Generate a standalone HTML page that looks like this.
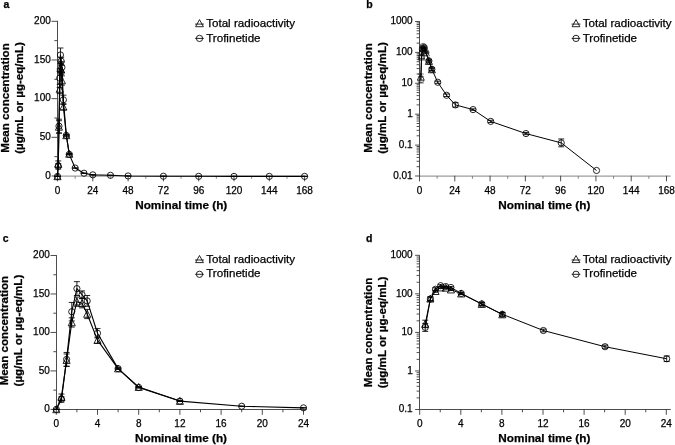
<!DOCTYPE html>
<html><head><meta charset="utf-8"><title>Figure</title>
<style>
html,body{margin:0;padding:0;background:#fff;}
body{width:675px;height:445px;overflow:hidden;font-family:'Liberation Sans', sans-serif;}
svg{display:block;font-family:'Liberation Sans', sans-serif;filter:blur(0.35px);}
text{fill:#000;stroke:#000;stroke-width:0.25px;}
</style></head><body>
<svg width="675" height="445" viewBox="0 0 675 445">
<rect width="675" height="445" fill="#fff"/>
<text x="3.60" y="8.40" font-size="10.5" text-anchor="start" font-weight="bold" >a</text>
<line x1="57.50" y1="176.00" x2="308.00" y2="176.00" stroke="#9c9c9c" stroke-width="1.25" />
<line x1="75.15" y1="176.00" x2="75.15" y2="178.80" stroke="#7a7a7a" stroke-width="0.9" />
<line x1="110.45" y1="176.00" x2="110.45" y2="178.80" stroke="#7a7a7a" stroke-width="0.9" />
<line x1="145.75" y1="176.00" x2="145.75" y2="178.80" stroke="#7a7a7a" stroke-width="0.9" />
<line x1="181.05" y1="176.00" x2="181.05" y2="178.80" stroke="#7a7a7a" stroke-width="0.9" />
<line x1="216.35" y1="176.00" x2="216.35" y2="178.80" stroke="#7a7a7a" stroke-width="0.9" />
<line x1="251.65" y1="176.00" x2="251.65" y2="178.80" stroke="#7a7a7a" stroke-width="0.9" />
<line x1="286.95" y1="176.00" x2="286.95" y2="178.80" stroke="#7a7a7a" stroke-width="0.9" />
<line x1="57.50" y1="175.70" x2="57.50" y2="181.30" stroke="#3a3a3a" stroke-width="0.9" />
<text x="57.50" y="193.80" font-size="10.0" text-anchor="middle" >0</text>
<line x1="92.80" y1="175.70" x2="92.80" y2="181.30" stroke="#3a3a3a" stroke-width="0.9" />
<text x="92.80" y="193.80" font-size="10.0" text-anchor="middle" >24</text>
<line x1="128.10" y1="175.70" x2="128.10" y2="181.30" stroke="#3a3a3a" stroke-width="0.9" />
<text x="128.10" y="193.80" font-size="10.0" text-anchor="middle" >48</text>
<line x1="163.40" y1="175.70" x2="163.40" y2="181.30" stroke="#3a3a3a" stroke-width="0.9" />
<text x="163.40" y="193.80" font-size="10.0" text-anchor="middle" >72</text>
<line x1="198.70" y1="175.70" x2="198.70" y2="181.30" stroke="#3a3a3a" stroke-width="0.9" />
<text x="198.70" y="193.80" font-size="10.0" text-anchor="middle" >96</text>
<line x1="234.00" y1="175.70" x2="234.00" y2="181.30" stroke="#3a3a3a" stroke-width="0.9" />
<text x="234.00" y="193.80" font-size="10.0" text-anchor="middle" >120</text>
<line x1="269.30" y1="175.70" x2="269.30" y2="181.30" stroke="#3a3a3a" stroke-width="0.9" />
<text x="269.30" y="193.80" font-size="10.0" text-anchor="middle" >144</text>
<line x1="304.60" y1="175.70" x2="304.60" y2="181.30" stroke="#3a3a3a" stroke-width="0.9" />
<text x="304.60" y="193.80" font-size="10.0" text-anchor="middle" >168</text>
<line x1="57.50" y1="20.90" x2="57.50" y2="176.40" stroke="#3a3a3a" stroke-width="0.9" />
<line x1="51.50" y1="176.00" x2="57.50" y2="176.00" stroke="#3a3a3a" stroke-width="0.9" />
<text x="50.80" y="178.60" font-size="10.0" text-anchor="end" >0</text>
<line x1="51.50" y1="137.32" x2="57.50" y2="137.32" stroke="#3a3a3a" stroke-width="0.9" />
<text x="50.80" y="139.92" font-size="10.0" text-anchor="end" >50</text>
<line x1="51.50" y1="98.65" x2="57.50" y2="98.65" stroke="#3a3a3a" stroke-width="0.9" />
<text x="50.80" y="101.25" font-size="10.0" text-anchor="end" >100</text>
<line x1="51.50" y1="59.97" x2="57.50" y2="59.97" stroke="#3a3a3a" stroke-width="0.9" />
<text x="50.80" y="62.57" font-size="10.0" text-anchor="end" >150</text>
<line x1="51.50" y1="21.30" x2="57.50" y2="21.30" stroke="#3a3a3a" stroke-width="0.9" />
<text x="50.80" y="23.90" font-size="10.0" text-anchor="end" >200</text>
<line x1="54.30" y1="156.66" x2="57.50" y2="156.66" stroke="#3a3a3a" stroke-width="0.9" />
<line x1="54.30" y1="117.99" x2="57.50" y2="117.99" stroke="#3a3a3a" stroke-width="0.9" />
<line x1="54.30" y1="79.31" x2="57.50" y2="79.31" stroke="#3a3a3a" stroke-width="0.9" />
<line x1="54.30" y1="40.64" x2="57.50" y2="40.64" stroke="#3a3a3a" stroke-width="0.9" />
<text transform="translate(9.40,98.00) rotate(-90)" font-size="11.6" font-weight="bold" text-anchor="middle">Mean concentration</text>
<text transform="translate(23.40,98.00) rotate(-90)" font-size="11.6" font-weight="bold" text-anchor="middle">(µg/mL or µg-eq/mL)</text>
<text x="181.20" y="208.70" font-size="11.75" text-anchor="middle" font-weight="bold" >Nominal time (h)</text>
<path d="M199.50,19.60 L195.60,26.70 L203.40,26.70 Z" fill="none" stroke="#000" stroke-width="0.85"/>
<line x1="195.10" y1="24.10" x2="203.90" y2="24.10" stroke="#000" stroke-width="0.85" />
<text x="206.20" y="27.30" font-size="11.6" text-anchor="start" >Total radioactivity</text>
<circle cx="199.50" cy="38.40" r="3.15" fill="none" stroke="#000" stroke-width="0.85"/>
<line x1="195.20" y1="38.40" x2="203.80" y2="38.40" stroke="#000" stroke-width="0.85" />
<text x="206.20" y="41.50" font-size="11.6" text-anchor="start" >Trofinetide</text>
<polyline points="57.50,176.40 58.24,164.02 58.97,126.90 59.71,88.99 60.44,68.11 61.18,69.66 61.91,80.49 63.38,106.79 66.33,135.40 69.27,153.97" fill="none" stroke="#000" stroke-width="1.1" stroke-linejoin="round"/>
<line x1="57.50" y1="176.40" x2="57.50" y2="176.40" stroke="#000" stroke-width="0.85" />
<line x1="54.50" y1="176.40" x2="60.50" y2="176.40" stroke="#000" stroke-width="0.85" />
<line x1="54.50" y1="176.40" x2="60.50" y2="176.40" stroke="#000" stroke-width="0.85" />
<path d="M57.50,172.80 L53.95,179.70 L61.05,179.70 Z" fill="none" stroke="#000" stroke-width="0.85" stroke-linejoin="miter"/>
<line x1="58.24" y1="160.93" x2="58.24" y2="167.12" stroke="#000" stroke-width="0.85" />
<line x1="55.24" y1="160.93" x2="61.24" y2="160.93" stroke="#000" stroke-width="0.85" />
<line x1="55.24" y1="167.12" x2="61.24" y2="167.12" stroke="#000" stroke-width="0.85" />
<path d="M58.24,160.42 L54.69,167.32 L61.79,167.32 Z" fill="none" stroke="#000" stroke-width="0.85" stroke-linejoin="miter"/>
<line x1="58.97" y1="120.71" x2="58.97" y2="133.08" stroke="#000" stroke-width="0.85" />
<line x1="55.97" y1="120.71" x2="61.97" y2="120.71" stroke="#000" stroke-width="0.85" />
<line x1="55.97" y1="133.08" x2="61.97" y2="133.08" stroke="#000" stroke-width="0.85" />
<path d="M58.97,123.30 L55.42,130.20 L62.52,130.20 Z" fill="none" stroke="#000" stroke-width="0.85" stroke-linejoin="miter"/>
<line x1="59.71" y1="84.35" x2="59.71" y2="93.64" stroke="#000" stroke-width="0.85" />
<line x1="56.71" y1="84.35" x2="62.71" y2="84.35" stroke="#000" stroke-width="0.85" />
<line x1="56.71" y1="93.64" x2="62.71" y2="93.64" stroke="#000" stroke-width="0.85" />
<path d="M59.71,85.39 L56.16,92.29 L63.26,92.29 Z" fill="none" stroke="#000" stroke-width="0.85" stroke-linejoin="miter"/>
<line x1="60.44" y1="63.47" x2="60.44" y2="72.75" stroke="#000" stroke-width="0.85" />
<line x1="57.44" y1="63.47" x2="63.44" y2="63.47" stroke="#000" stroke-width="0.85" />
<line x1="57.44" y1="72.75" x2="63.44" y2="72.75" stroke="#000" stroke-width="0.85" />
<path d="M60.44,64.51 L56.89,71.41 L63.99,71.41 Z" fill="none" stroke="#000" stroke-width="0.85" stroke-linejoin="miter"/>
<line x1="61.18" y1="65.02" x2="61.18" y2="74.30" stroke="#000" stroke-width="0.85" />
<line x1="58.18" y1="65.02" x2="64.18" y2="65.02" stroke="#000" stroke-width="0.85" />
<line x1="58.18" y1="74.30" x2="64.18" y2="74.30" stroke="#000" stroke-width="0.85" />
<path d="M61.18,66.06 L57.63,72.96 L64.73,72.96 Z" fill="none" stroke="#000" stroke-width="0.85" stroke-linejoin="miter"/>
<line x1="61.91" y1="75.84" x2="61.91" y2="85.13" stroke="#000" stroke-width="0.85" />
<line x1="58.91" y1="75.84" x2="64.91" y2="75.84" stroke="#000" stroke-width="0.85" />
<line x1="58.91" y1="85.13" x2="64.91" y2="85.13" stroke="#000" stroke-width="0.85" />
<path d="M61.91,76.89 L58.36,83.79 L65.46,83.79 Z" fill="none" stroke="#000" stroke-width="0.85" stroke-linejoin="miter"/>
<line x1="63.38" y1="103.69" x2="63.38" y2="109.88" stroke="#000" stroke-width="0.85" />
<line x1="60.38" y1="103.69" x2="66.38" y2="103.69" stroke="#000" stroke-width="0.85" />
<line x1="60.38" y1="109.88" x2="66.38" y2="109.88" stroke="#000" stroke-width="0.85" />
<path d="M63.38,103.19 L59.83,110.09 L66.93,110.09 Z" fill="none" stroke="#000" stroke-width="0.85" stroke-linejoin="miter"/>
<line x1="66.33" y1="134.79" x2="66.33" y2="136.02" stroke="#000" stroke-width="0.85" />
<line x1="63.33" y1="134.79" x2="69.33" y2="134.79" stroke="#000" stroke-width="0.85" />
<line x1="63.33" y1="136.02" x2="69.33" y2="136.02" stroke="#000" stroke-width="0.85" />
<path d="M66.33,131.80 L62.78,138.70 L69.88,138.70 Z" fill="none" stroke="#000" stroke-width="0.85" stroke-linejoin="miter"/>
<line x1="69.27" y1="153.43" x2="69.27" y2="154.51" stroke="#000" stroke-width="0.85" />
<line x1="66.27" y1="153.43" x2="72.27" y2="153.43" stroke="#000" stroke-width="0.85" />
<line x1="66.27" y1="154.51" x2="72.27" y2="154.51" stroke="#000" stroke-width="0.85" />
<path d="M69.27,150.37 L65.72,157.27 L72.82,157.27 Z" fill="none" stroke="#000" stroke-width="0.85" stroke-linejoin="miter"/>
<polyline points="57.50,176.40 58.24,166.34 58.97,126.12 59.71,78.17 60.44,54.96 61.18,61.15 61.91,67.34 63.38,99.82 66.33,135.40 69.27,154.36 75.15,168.05 83.97,173.23 92.80,174.85 110.45,175.31 128.10,175.95 163.40,176.22 198.70,176.31 234.00,176.39 269.30,176.40 304.60,176.40" fill="none" stroke="#000" stroke-width="1.1" stroke-linejoin="round"/>
<line x1="57.50" y1="176.40" x2="57.50" y2="176.40" stroke="#000" stroke-width="0.85" />
<line x1="54.50" y1="176.40" x2="60.50" y2="176.40" stroke="#000" stroke-width="0.85" />
<line x1="54.50" y1="176.40" x2="60.50" y2="176.40" stroke="#000" stroke-width="0.85" />
<circle cx="57.50" cy="176.40" r="3.1" fill="none" stroke="#000" stroke-width="0.85"/>
<line x1="58.24" y1="163.64" x2="58.24" y2="169.05" stroke="#000" stroke-width="0.85" />
<line x1="55.24" y1="163.64" x2="61.24" y2="163.64" stroke="#000" stroke-width="0.85" />
<line x1="55.24" y1="169.05" x2="61.24" y2="169.05" stroke="#000" stroke-width="0.85" />
<circle cx="58.24" cy="166.34" r="3.1" fill="none" stroke="#000" stroke-width="0.85"/>
<line x1="58.97" y1="119.16" x2="58.97" y2="133.08" stroke="#000" stroke-width="0.85" />
<line x1="55.97" y1="119.16" x2="61.97" y2="119.16" stroke="#000" stroke-width="0.85" />
<line x1="55.97" y1="133.08" x2="61.97" y2="133.08" stroke="#000" stroke-width="0.85" />
<circle cx="58.97" cy="126.12" r="3.1" fill="none" stroke="#000" stroke-width="0.85"/>
<line x1="59.71" y1="68.88" x2="59.71" y2="87.45" stroke="#000" stroke-width="0.85" />
<line x1="56.71" y1="68.88" x2="62.71" y2="68.88" stroke="#000" stroke-width="0.85" />
<line x1="56.71" y1="87.45" x2="62.71" y2="87.45" stroke="#000" stroke-width="0.85" />
<circle cx="59.71" cy="78.17" r="3.1" fill="none" stroke="#000" stroke-width="0.85"/>
<line x1="60.44" y1="48.00" x2="60.44" y2="61.92" stroke="#000" stroke-width="0.85" />
<line x1="57.44" y1="48.00" x2="63.44" y2="48.00" stroke="#000" stroke-width="0.85" />
<line x1="57.44" y1="61.92" x2="63.44" y2="61.92" stroke="#000" stroke-width="0.85" />
<circle cx="60.44" cy="54.96" r="3.1" fill="none" stroke="#000" stroke-width="0.85"/>
<line x1="61.18" y1="57.28" x2="61.18" y2="65.02" stroke="#000" stroke-width="0.85" />
<line x1="58.18" y1="57.28" x2="64.18" y2="57.28" stroke="#000" stroke-width="0.85" />
<line x1="58.18" y1="65.02" x2="64.18" y2="65.02" stroke="#000" stroke-width="0.85" />
<circle cx="61.18" cy="61.15" r="3.1" fill="none" stroke="#000" stroke-width="0.85"/>
<line x1="61.91" y1="61.92" x2="61.91" y2="72.75" stroke="#000" stroke-width="0.85" />
<line x1="58.91" y1="61.92" x2="64.91" y2="61.92" stroke="#000" stroke-width="0.85" />
<line x1="58.91" y1="72.75" x2="64.91" y2="72.75" stroke="#000" stroke-width="0.85" />
<circle cx="61.91" cy="67.34" r="3.1" fill="none" stroke="#000" stroke-width="0.85"/>
<line x1="63.38" y1="95.18" x2="63.38" y2="104.46" stroke="#000" stroke-width="0.85" />
<line x1="60.38" y1="95.18" x2="66.38" y2="95.18" stroke="#000" stroke-width="0.85" />
<line x1="60.38" y1="104.46" x2="66.38" y2="104.46" stroke="#000" stroke-width="0.85" />
<circle cx="63.38" cy="99.82" r="3.1" fill="none" stroke="#000" stroke-width="0.85"/>
<line x1="66.33" y1="134.71" x2="66.33" y2="136.10" stroke="#000" stroke-width="0.85" />
<line x1="63.33" y1="134.71" x2="69.33" y2="134.71" stroke="#000" stroke-width="0.85" />
<line x1="63.33" y1="136.10" x2="69.33" y2="136.10" stroke="#000" stroke-width="0.85" />
<circle cx="66.33" cy="135.40" r="3.1" fill="none" stroke="#000" stroke-width="0.85"/>
<line x1="69.27" y1="153.74" x2="69.27" y2="154.97" stroke="#000" stroke-width="0.85" />
<line x1="66.27" y1="153.74" x2="72.27" y2="153.74" stroke="#000" stroke-width="0.85" />
<line x1="66.27" y1="154.97" x2="72.27" y2="154.97" stroke="#000" stroke-width="0.85" />
<circle cx="69.27" cy="154.36" r="3.1" fill="none" stroke="#000" stroke-width="0.85"/>
<line x1="75.15" y1="167.74" x2="75.15" y2="168.36" stroke="#000" stroke-width="0.85" />
<line x1="72.15" y1="167.74" x2="78.15" y2="167.74" stroke="#000" stroke-width="0.85" />
<line x1="72.15" y1="168.36" x2="78.15" y2="168.36" stroke="#000" stroke-width="0.85" />
<circle cx="75.15" cy="168.05" r="3.1" fill="none" stroke="#000" stroke-width="0.85"/>
<line x1="83.97" y1="172.92" x2="83.97" y2="173.54" stroke="#000" stroke-width="0.85" />
<line x1="80.97" y1="172.92" x2="86.97" y2="172.92" stroke="#000" stroke-width="0.85" />
<line x1="80.97" y1="173.54" x2="86.97" y2="173.54" stroke="#000" stroke-width="0.85" />
<circle cx="83.97" cy="173.23" r="3.1" fill="none" stroke="#000" stroke-width="0.85"/>
<line x1="92.80" y1="174.57" x2="92.80" y2="175.13" stroke="#000" stroke-width="0.85" />
<line x1="89.80" y1="174.57" x2="95.80" y2="174.57" stroke="#000" stroke-width="0.85" />
<line x1="89.80" y1="175.13" x2="95.80" y2="175.13" stroke="#000" stroke-width="0.85" />
<circle cx="92.80" cy="174.85" r="3.1" fill="none" stroke="#000" stroke-width="0.85"/>
<line x1="110.45" y1="175.25" x2="110.45" y2="175.37" stroke="#000" stroke-width="0.85" />
<line x1="107.45" y1="175.25" x2="113.45" y2="175.25" stroke="#000" stroke-width="0.85" />
<line x1="107.45" y1="175.37" x2="113.45" y2="175.37" stroke="#000" stroke-width="0.85" />
<circle cx="110.45" cy="175.31" r="3.1" fill="none" stroke="#000" stroke-width="0.85"/>
<line x1="128.10" y1="175.91" x2="128.10" y2="175.99" stroke="#000" stroke-width="0.85" />
<line x1="125.10" y1="175.91" x2="131.10" y2="175.91" stroke="#000" stroke-width="0.85" />
<line x1="125.10" y1="175.99" x2="131.10" y2="175.99" stroke="#000" stroke-width="0.85" />
<circle cx="128.10" cy="175.95" r="3.1" fill="none" stroke="#000" stroke-width="0.85"/>
<line x1="163.40" y1="176.20" x2="163.40" y2="176.23" stroke="#000" stroke-width="0.85" />
<line x1="160.40" y1="176.20" x2="166.40" y2="176.20" stroke="#000" stroke-width="0.85" />
<line x1="160.40" y1="176.23" x2="166.40" y2="176.23" stroke="#000" stroke-width="0.85" />
<circle cx="163.40" cy="176.22" r="3.1" fill="none" stroke="#000" stroke-width="0.85"/>
<line x1="198.70" y1="176.28" x2="198.70" y2="176.34" stroke="#000" stroke-width="0.85" />
<line x1="195.70" y1="176.28" x2="201.70" y2="176.28" stroke="#000" stroke-width="0.85" />
<line x1="195.70" y1="176.34" x2="201.70" y2="176.34" stroke="#000" stroke-width="0.85" />
<circle cx="198.70" cy="176.31" r="3.1" fill="none" stroke="#000" stroke-width="0.85"/>
<line x1="234.00" y1="176.39" x2="234.00" y2="176.39" stroke="#000" stroke-width="0.85" />
<line x1="231.00" y1="176.39" x2="237.00" y2="176.39" stroke="#000" stroke-width="0.85" />
<line x1="231.00" y1="176.39" x2="237.00" y2="176.39" stroke="#000" stroke-width="0.85" />
<circle cx="234.00" cy="176.39" r="3.1" fill="none" stroke="#000" stroke-width="0.85"/>
<line x1="269.30" y1="176.40" x2="269.30" y2="176.40" stroke="#000" stroke-width="0.85" />
<line x1="266.30" y1="176.40" x2="272.30" y2="176.40" stroke="#000" stroke-width="0.85" />
<line x1="266.30" y1="176.40" x2="272.30" y2="176.40" stroke="#000" stroke-width="0.85" />
<circle cx="269.30" cy="176.40" r="3.1" fill="none" stroke="#000" stroke-width="0.85"/>
<line x1="304.60" y1="176.40" x2="304.60" y2="176.40" stroke="#000" stroke-width="0.85" />
<line x1="301.60" y1="176.40" x2="307.60" y2="176.40" stroke="#000" stroke-width="0.85" />
<line x1="301.60" y1="176.40" x2="307.60" y2="176.40" stroke="#000" stroke-width="0.85" />
<circle cx="304.60" cy="176.40" r="3.1" fill="none" stroke="#000" stroke-width="0.85"/>
<text x="366.30" y="8.10" font-size="10.5" text-anchor="start" font-weight="bold" >b</text>
<line x1="419.50" y1="176.00" x2="670.60" y2="176.00" stroke="#9c9c9c" stroke-width="1.25" />
<line x1="437.14" y1="176.00" x2="437.14" y2="178.80" stroke="#7a7a7a" stroke-width="0.9" />
<line x1="472.43" y1="176.00" x2="472.43" y2="178.80" stroke="#7a7a7a" stroke-width="0.9" />
<line x1="507.71" y1="176.00" x2="507.71" y2="178.80" stroke="#7a7a7a" stroke-width="0.9" />
<line x1="543.00" y1="176.00" x2="543.00" y2="178.80" stroke="#7a7a7a" stroke-width="0.9" />
<line x1="578.29" y1="176.00" x2="578.29" y2="178.80" stroke="#7a7a7a" stroke-width="0.9" />
<line x1="613.57" y1="176.00" x2="613.57" y2="178.80" stroke="#7a7a7a" stroke-width="0.9" />
<line x1="648.86" y1="176.00" x2="648.86" y2="178.80" stroke="#7a7a7a" stroke-width="0.9" />
<line x1="419.50" y1="175.70" x2="419.50" y2="181.30" stroke="#3a3a3a" stroke-width="0.9" />
<text x="419.50" y="193.80" font-size="10.0" text-anchor="middle" >0</text>
<line x1="454.79" y1="175.70" x2="454.79" y2="181.30" stroke="#3a3a3a" stroke-width="0.9" />
<text x="454.79" y="193.80" font-size="10.0" text-anchor="middle" >24</text>
<line x1="490.07" y1="175.70" x2="490.07" y2="181.30" stroke="#3a3a3a" stroke-width="0.9" />
<text x="490.07" y="193.80" font-size="10.0" text-anchor="middle" >48</text>
<line x1="525.36" y1="175.70" x2="525.36" y2="181.30" stroke="#3a3a3a" stroke-width="0.9" />
<text x="525.36" y="193.80" font-size="10.0" text-anchor="middle" >72</text>
<line x1="560.64" y1="175.70" x2="560.64" y2="181.30" stroke="#3a3a3a" stroke-width="0.9" />
<text x="560.64" y="193.80" font-size="10.0" text-anchor="middle" >96</text>
<line x1="595.93" y1="175.70" x2="595.93" y2="181.30" stroke="#3a3a3a" stroke-width="0.9" />
<text x="595.93" y="193.80" font-size="10.0" text-anchor="middle" >120</text>
<line x1="631.21" y1="175.70" x2="631.21" y2="181.30" stroke="#3a3a3a" stroke-width="0.9" />
<text x="631.21" y="193.80" font-size="10.0" text-anchor="middle" >144</text>
<line x1="666.50" y1="175.70" x2="666.50" y2="181.30" stroke="#3a3a3a" stroke-width="0.9" />
<text x="666.50" y="193.80" font-size="10.0" text-anchor="middle" >168</text>
<line x1="419.50" y1="21.10" x2="419.50" y2="176.40" stroke="#3a3a3a" stroke-width="0.9" />
<line x1="415.10" y1="176.00" x2="419.50" y2="176.00" stroke="#3a3a3a" stroke-width="0.9" />
<text x="412.70" y="178.90" font-size="10.0" text-anchor="end" >0.01</text>
<line x1="415.10" y1="145.10" x2="419.50" y2="145.10" stroke="#3a3a3a" stroke-width="0.9" />
<text x="412.70" y="148.00" font-size="10.0" text-anchor="end" >0.1</text>
<line x1="415.10" y1="114.20" x2="419.50" y2="114.20" stroke="#3a3a3a" stroke-width="0.9" />
<text x="412.70" y="117.10" font-size="10.0" text-anchor="end" >1</text>
<line x1="415.10" y1="83.30" x2="419.50" y2="83.30" stroke="#3a3a3a" stroke-width="0.9" />
<text x="412.70" y="86.20" font-size="10.0" text-anchor="end" >10</text>
<line x1="415.10" y1="52.40" x2="419.50" y2="52.40" stroke="#3a3a3a" stroke-width="0.9" />
<text x="412.70" y="55.30" font-size="10.0" text-anchor="end" >100</text>
<line x1="415.10" y1="21.50" x2="419.50" y2="21.50" stroke="#3a3a3a" stroke-width="0.9" />
<text x="412.70" y="24.40" font-size="10.0" text-anchor="end" >1000</text>
<line x1="416.60" y1="166.70" x2="419.50" y2="166.70" stroke="#3a3a3a" stroke-width="0.9" />
<line x1="416.60" y1="161.26" x2="419.50" y2="161.26" stroke="#3a3a3a" stroke-width="0.9" />
<line x1="416.60" y1="157.40" x2="419.50" y2="157.40" stroke="#3a3a3a" stroke-width="0.9" />
<line x1="416.60" y1="154.40" x2="419.50" y2="154.40" stroke="#3a3a3a" stroke-width="0.9" />
<line x1="416.60" y1="151.96" x2="419.50" y2="151.96" stroke="#3a3a3a" stroke-width="0.9" />
<line x1="416.60" y1="149.89" x2="419.50" y2="149.89" stroke="#3a3a3a" stroke-width="0.9" />
<line x1="416.60" y1="148.09" x2="419.50" y2="148.09" stroke="#3a3a3a" stroke-width="0.9" />
<line x1="416.60" y1="146.51" x2="419.50" y2="146.51" stroke="#3a3a3a" stroke-width="0.9" />
<line x1="416.60" y1="135.80" x2="419.50" y2="135.80" stroke="#3a3a3a" stroke-width="0.9" />
<line x1="416.60" y1="130.36" x2="419.50" y2="130.36" stroke="#3a3a3a" stroke-width="0.9" />
<line x1="416.60" y1="126.50" x2="419.50" y2="126.50" stroke="#3a3a3a" stroke-width="0.9" />
<line x1="416.60" y1="123.50" x2="419.50" y2="123.50" stroke="#3a3a3a" stroke-width="0.9" />
<line x1="416.60" y1="121.06" x2="419.50" y2="121.06" stroke="#3a3a3a" stroke-width="0.9" />
<line x1="416.60" y1="118.99" x2="419.50" y2="118.99" stroke="#3a3a3a" stroke-width="0.9" />
<line x1="416.60" y1="117.19" x2="419.50" y2="117.19" stroke="#3a3a3a" stroke-width="0.9" />
<line x1="416.60" y1="115.61" x2="419.50" y2="115.61" stroke="#3a3a3a" stroke-width="0.9" />
<line x1="416.60" y1="104.90" x2="419.50" y2="104.90" stroke="#3a3a3a" stroke-width="0.9" />
<line x1="416.60" y1="99.46" x2="419.50" y2="99.46" stroke="#3a3a3a" stroke-width="0.9" />
<line x1="416.60" y1="95.60" x2="419.50" y2="95.60" stroke="#3a3a3a" stroke-width="0.9" />
<line x1="416.60" y1="92.60" x2="419.50" y2="92.60" stroke="#3a3a3a" stroke-width="0.9" />
<line x1="416.60" y1="90.16" x2="419.50" y2="90.16" stroke="#3a3a3a" stroke-width="0.9" />
<line x1="416.60" y1="88.09" x2="419.50" y2="88.09" stroke="#3a3a3a" stroke-width="0.9" />
<line x1="416.60" y1="86.29" x2="419.50" y2="86.29" stroke="#3a3a3a" stroke-width="0.9" />
<line x1="416.60" y1="84.71" x2="419.50" y2="84.71" stroke="#3a3a3a" stroke-width="0.9" />
<line x1="416.60" y1="74.00" x2="419.50" y2="74.00" stroke="#3a3a3a" stroke-width="0.9" />
<line x1="416.60" y1="68.56" x2="419.50" y2="68.56" stroke="#3a3a3a" stroke-width="0.9" />
<line x1="416.60" y1="64.70" x2="419.50" y2="64.70" stroke="#3a3a3a" stroke-width="0.9" />
<line x1="416.60" y1="61.70" x2="419.50" y2="61.70" stroke="#3a3a3a" stroke-width="0.9" />
<line x1="416.60" y1="59.26" x2="419.50" y2="59.26" stroke="#3a3a3a" stroke-width="0.9" />
<line x1="416.60" y1="57.19" x2="419.50" y2="57.19" stroke="#3a3a3a" stroke-width="0.9" />
<line x1="416.60" y1="55.39" x2="419.50" y2="55.39" stroke="#3a3a3a" stroke-width="0.9" />
<line x1="416.60" y1="53.81" x2="419.50" y2="53.81" stroke="#3a3a3a" stroke-width="0.9" />
<line x1="416.60" y1="43.10" x2="419.50" y2="43.10" stroke="#3a3a3a" stroke-width="0.9" />
<line x1="416.60" y1="37.66" x2="419.50" y2="37.66" stroke="#3a3a3a" stroke-width="0.9" />
<line x1="416.60" y1="33.80" x2="419.50" y2="33.80" stroke="#3a3a3a" stroke-width="0.9" />
<line x1="416.60" y1="30.80" x2="419.50" y2="30.80" stroke="#3a3a3a" stroke-width="0.9" />
<line x1="416.60" y1="28.36" x2="419.50" y2="28.36" stroke="#3a3a3a" stroke-width="0.9" />
<line x1="416.60" y1="26.29" x2="419.50" y2="26.29" stroke="#3a3a3a" stroke-width="0.9" />
<line x1="416.60" y1="24.49" x2="419.50" y2="24.49" stroke="#3a3a3a" stroke-width="0.9" />
<line x1="416.60" y1="22.91" x2="419.50" y2="22.91" stroke="#3a3a3a" stroke-width="0.9" />
<text transform="translate(371.80,98.00) rotate(-90)" font-size="11.6" font-weight="bold" text-anchor="middle">Mean concentration</text>
<text transform="translate(385.70,98.00) rotate(-90)" font-size="11.6" font-weight="bold" text-anchor="middle">(µg/mL or µg-eq/mL)</text>
<text x="544.30" y="208.70" font-size="11.75" text-anchor="middle" font-weight="bold" >Nominal time (h)</text>
<path d="M576.00,19.60 L572.10,26.70 L579.90,26.70 Z" fill="none" stroke="#000" stroke-width="0.85"/>
<line x1="571.60" y1="24.10" x2="580.40" y2="24.10" stroke="#000" stroke-width="0.85" />
<text x="582.70" y="27.30" font-size="11.6" text-anchor="start" >Total radioactivity</text>
<circle cx="576.00" cy="38.40" r="3.15" fill="none" stroke="#000" stroke-width="0.85"/>
<line x1="571.70" y1="38.40" x2="580.30" y2="38.40" stroke="#000" stroke-width="0.85" />
<text x="582.70" y="41.50" font-size="11.6" text-anchor="start" >Trofinetide</text>
<polyline points="420.84,76.99 421.57,56.81 422.31,50.76 423.04,47.88 423.78,48.08 424.51,49.51 425.98,52.74 428.92,61.12 431.86,69.45" fill="none" stroke="#000" stroke-width="1.0" stroke-linejoin="round"/>
<line x1="420.84" y1="74.00" x2="420.84" y2="79.99" stroke="#000" stroke-width="0.5" />
<line x1="417.84" y1="74.00" x2="423.84" y2="74.00" stroke="#000" stroke-width="0.5" />
<line x1="417.84" y1="79.99" x2="423.84" y2="79.99" stroke="#000" stroke-width="0.5" />
<path d="M420.84,73.39 L417.29,80.29 L424.39,80.29 Z" fill="none" stroke="#000" stroke-width="0.5" stroke-linejoin="miter"/>
<line x1="421.57" y1="55.39" x2="421.57" y2="58.22" stroke="#000" stroke-width="0.5" />
<line x1="418.57" y1="55.39" x2="424.57" y2="55.39" stroke="#000" stroke-width="0.5" />
<line x1="418.57" y1="58.22" x2="424.57" y2="58.22" stroke="#000" stroke-width="0.5" />
<path d="M421.57,53.21 L418.02,60.11 L425.12,60.11 Z" fill="none" stroke="#000" stroke-width="0.5" stroke-linejoin="miter"/>
<line x1="422.31" y1="50.07" x2="422.31" y2="51.45" stroke="#000" stroke-width="0.5" />
<line x1="419.31" y1="50.07" x2="425.31" y2="50.07" stroke="#000" stroke-width="0.5" />
<line x1="419.31" y1="51.45" x2="425.31" y2="51.45" stroke="#000" stroke-width="0.5" />
<path d="M422.31,47.16 L418.76,54.06 L425.86,54.06 Z" fill="none" stroke="#000" stroke-width="0.5" stroke-linejoin="miter"/>
<line x1="423.04" y1="47.32" x2="423.04" y2="48.45" stroke="#000" stroke-width="0.5" />
<line x1="420.04" y1="47.32" x2="426.04" y2="47.32" stroke="#000" stroke-width="0.5" />
<line x1="420.04" y1="48.45" x2="426.04" y2="48.45" stroke="#000" stroke-width="0.5" />
<path d="M423.04,44.28 L419.49,51.18 L426.59,51.18 Z" fill="none" stroke="#000" stroke-width="0.5" stroke-linejoin="miter"/>
<line x1="423.78" y1="47.51" x2="423.78" y2="48.65" stroke="#000" stroke-width="0.5" />
<line x1="420.78" y1="47.51" x2="426.78" y2="47.51" stroke="#000" stroke-width="0.5" />
<line x1="420.78" y1="48.65" x2="426.78" y2="48.65" stroke="#000" stroke-width="0.5" />
<path d="M423.78,44.48 L420.23,51.38 L427.33,51.38 Z" fill="none" stroke="#000" stroke-width="0.5" stroke-linejoin="miter"/>
<line x1="424.51" y1="48.88" x2="424.51" y2="50.15" stroke="#000" stroke-width="0.5" />
<line x1="421.51" y1="48.88" x2="427.51" y2="48.88" stroke="#000" stroke-width="0.5" />
<line x1="421.51" y1="50.15" x2="427.51" y2="50.15" stroke="#000" stroke-width="0.5" />
<path d="M424.51,45.91 L420.96,52.81 L428.06,52.81 Z" fill="none" stroke="#000" stroke-width="0.5" stroke-linejoin="miter"/>
<line x1="425.98" y1="52.20" x2="425.98" y2="53.28" stroke="#000" stroke-width="0.5" />
<line x1="422.98" y1="52.20" x2="428.98" y2="52.20" stroke="#000" stroke-width="0.5" />
<line x1="422.98" y1="53.28" x2="428.98" y2="53.28" stroke="#000" stroke-width="0.5" />
<path d="M425.98,49.14 L422.43,56.04 L429.53,56.04 Z" fill="none" stroke="#000" stroke-width="0.5" stroke-linejoin="miter"/>
<line x1="428.92" y1="60.01" x2="428.92" y2="62.23" stroke="#000" stroke-width="0.85" />
<line x1="425.92" y1="60.01" x2="431.92" y2="60.01" stroke="#000" stroke-width="0.85" />
<line x1="425.92" y1="62.23" x2="431.92" y2="62.23" stroke="#000" stroke-width="0.85" />
<path d="M428.92,57.52 L425.37,64.42 L432.47,64.42 Z" fill="none" stroke="#000" stroke-width="0.85" stroke-linejoin="miter"/>
<line x1="431.86" y1="68.09" x2="431.86" y2="70.81" stroke="#000" stroke-width="0.85" />
<line x1="428.86" y1="68.09" x2="434.86" y2="68.09" stroke="#000" stroke-width="0.85" />
<line x1="428.86" y1="70.81" x2="434.86" y2="70.81" stroke="#000" stroke-width="0.85" />
<path d="M431.86,65.85 L428.31,72.75 L435.41,72.75 Z" fill="none" stroke="#000" stroke-width="0.85" stroke-linejoin="miter"/>
<polyline points="420.84,79.78 421.57,57.00 422.31,49.19 423.04,46.35 423.78,47.05 424.51,47.79 425.98,52.53 428.92,60.92 431.86,69.25 437.74,82.27 446.56,95.26 455.39,104.90 473.03,109.59 490.67,121.39 525.96,133.58 561.24,142.88 596.53,170.47" fill="none" stroke="#000" stroke-width="1.0" stroke-linejoin="round"/>
<line x1="420.84" y1="76.58" x2="420.84" y2="82.98" stroke="#000" stroke-width="0.5" />
<line x1="417.84" y1="76.58" x2="423.84" y2="76.58" stroke="#000" stroke-width="0.5" />
<line x1="417.84" y1="82.98" x2="423.84" y2="82.98" stroke="#000" stroke-width="0.5" />
<circle cx="420.84" cy="79.78" r="3.1" fill="none" stroke="#000" stroke-width="0.5"/>
<line x1="421.57" y1="55.39" x2="421.57" y2="58.60" stroke="#000" stroke-width="0.5" />
<line x1="418.57" y1="55.39" x2="424.57" y2="55.39" stroke="#000" stroke-width="0.5" />
<line x1="418.57" y1="58.60" x2="424.57" y2="58.60" stroke="#000" stroke-width="0.5" />
<circle cx="421.57" cy="57.00" r="3.1" fill="none" stroke="#000" stroke-width="0.5"/>
<line x1="422.31" y1="47.98" x2="422.31" y2="50.40" stroke="#000" stroke-width="0.5" />
<line x1="419.31" y1="47.98" x2="425.31" y2="47.98" stroke="#000" stroke-width="0.5" />
<line x1="419.31" y1="50.40" x2="425.31" y2="50.40" stroke="#000" stroke-width="0.5" />
<circle cx="422.31" cy="49.19" r="3.1" fill="none" stroke="#000" stroke-width="0.5"/>
<line x1="423.04" y1="45.60" x2="423.04" y2="47.09" stroke="#000" stroke-width="0.5" />
<line x1="420.04" y1="45.60" x2="426.04" y2="45.60" stroke="#000" stroke-width="0.5" />
<line x1="420.04" y1="47.09" x2="426.04" y2="47.09" stroke="#000" stroke-width="0.5" />
<circle cx="423.04" cy="46.35" r="3.1" fill="none" stroke="#000" stroke-width="0.5"/>
<line x1="423.78" y1="46.61" x2="423.78" y2="47.49" stroke="#000" stroke-width="0.5" />
<line x1="420.78" y1="46.61" x2="426.78" y2="46.61" stroke="#000" stroke-width="0.5" />
<line x1="420.78" y1="47.49" x2="426.78" y2="47.49" stroke="#000" stroke-width="0.5" />
<circle cx="423.78" cy="47.05" r="3.1" fill="none" stroke="#000" stroke-width="0.5"/>
<line x1="424.51" y1="47.14" x2="424.51" y2="48.44" stroke="#000" stroke-width="0.5" />
<line x1="421.51" y1="47.14" x2="427.51" y2="47.14" stroke="#000" stroke-width="0.5" />
<line x1="421.51" y1="48.44" x2="427.51" y2="48.44" stroke="#000" stroke-width="0.5" />
<circle cx="424.51" cy="47.79" r="3.1" fill="none" stroke="#000" stroke-width="0.5"/>
<line x1="425.98" y1="51.75" x2="425.98" y2="53.32" stroke="#000" stroke-width="0.5" />
<line x1="422.98" y1="51.75" x2="428.98" y2="51.75" stroke="#000" stroke-width="0.5" />
<line x1="422.98" y1="53.32" x2="428.98" y2="53.32" stroke="#000" stroke-width="0.5" />
<circle cx="425.98" cy="52.53" r="3.1" fill="none" stroke="#000" stroke-width="0.5"/>
<line x1="428.92" y1="59.83" x2="428.92" y2="62.01" stroke="#000" stroke-width="0.85" />
<line x1="425.92" y1="59.83" x2="431.92" y2="59.83" stroke="#000" stroke-width="0.85" />
<line x1="425.92" y1="62.01" x2="431.92" y2="62.01" stroke="#000" stroke-width="0.85" />
<circle cx="428.92" cy="60.92" r="3.1" fill="none" stroke="#000" stroke-width="0.85"/>
<line x1="431.86" y1="67.90" x2="431.86" y2="70.59" stroke="#000" stroke-width="0.85" />
<line x1="428.86" y1="67.90" x2="434.86" y2="67.90" stroke="#000" stroke-width="0.85" />
<line x1="428.86" y1="70.59" x2="434.86" y2="70.59" stroke="#000" stroke-width="0.85" />
<circle cx="431.86" cy="69.25" r="3.1" fill="none" stroke="#000" stroke-width="0.85"/>
<line x1="437.74" y1="81.19" x2="437.74" y2="83.34" stroke="#000" stroke-width="0.85" />
<line x1="434.74" y1="81.19" x2="440.74" y2="81.19" stroke="#000" stroke-width="0.85" />
<line x1="434.74" y1="83.34" x2="440.74" y2="83.34" stroke="#000" stroke-width="0.85" />
<circle cx="437.74" cy="82.27" r="3.1" fill="none" stroke="#000" stroke-width="0.85"/>
<line x1="446.56" y1="94.02" x2="446.56" y2="96.51" stroke="#000" stroke-width="0.85" />
<line x1="443.56" y1="94.02" x2="449.56" y2="94.02" stroke="#000" stroke-width="0.85" />
<line x1="443.56" y1="96.51" x2="449.56" y2="96.51" stroke="#000" stroke-width="0.85" />
<circle cx="446.56" cy="95.26" r="3.1" fill="none" stroke="#000" stroke-width="0.85"/>
<line x1="455.39" y1="102.68" x2="455.39" y2="107.12" stroke="#000" stroke-width="0.85" />
<line x1="452.39" y1="102.68" x2="458.39" y2="102.68" stroke="#000" stroke-width="0.85" />
<line x1="452.39" y1="107.12" x2="458.39" y2="107.12" stroke="#000" stroke-width="0.85" />
<circle cx="455.39" cy="104.90" r="3.1" fill="none" stroke="#000" stroke-width="0.85"/>
<line x1="473.03" y1="108.85" x2="473.03" y2="110.33" stroke="#000" stroke-width="0.85" />
<line x1="470.03" y1="108.85" x2="476.03" y2="108.85" stroke="#000" stroke-width="0.85" />
<line x1="470.03" y1="110.33" x2="476.03" y2="110.33" stroke="#000" stroke-width="0.85" />
<circle cx="473.03" cy="109.59" r="3.1" fill="none" stroke="#000" stroke-width="0.85"/>
<line x1="490.67" y1="120.29" x2="490.67" y2="122.50" stroke="#000" stroke-width="0.85" />
<line x1="487.67" y1="120.29" x2="493.67" y2="120.29" stroke="#000" stroke-width="0.85" />
<line x1="487.67" y1="122.50" x2="493.67" y2="122.50" stroke="#000" stroke-width="0.85" />
<circle cx="490.67" cy="121.39" r="3.1" fill="none" stroke="#000" stroke-width="0.85"/>
<line x1="525.96" y1="132.49" x2="525.96" y2="134.67" stroke="#000" stroke-width="0.85" />
<line x1="522.96" y1="132.49" x2="528.96" y2="132.49" stroke="#000" stroke-width="0.85" />
<line x1="522.96" y1="134.67" x2="528.96" y2="134.67" stroke="#000" stroke-width="0.85" />
<circle cx="525.96" cy="133.58" r="3.1" fill="none" stroke="#000" stroke-width="0.85"/>
<line x1="561.24" y1="138.96" x2="561.24" y2="146.80" stroke="#000" stroke-width="0.85" />
<line x1="558.24" y1="138.96" x2="564.24" y2="138.96" stroke="#000" stroke-width="0.85" />
<line x1="558.24" y1="146.80" x2="564.24" y2="146.80" stroke="#000" stroke-width="0.85" />
<circle cx="561.24" cy="142.88" r="3.1" fill="none" stroke="#000" stroke-width="0.85"/>
<circle cx="596.53" cy="170.47" r="3.1" fill="none" stroke="#000" stroke-width="0.85"/>
<text x="2.80" y="241.90" font-size="10.5" text-anchor="start" font-weight="bold" >c</text>
<line x1="56.50" y1="409.50" x2="306.50" y2="409.50" stroke="#3a3a3a" stroke-width="0.9" />
<line x1="76.90" y1="409.50" x2="76.90" y2="412.30" stroke="#3a3a3a" stroke-width="0.9" />
<line x1="118.10" y1="409.50" x2="118.10" y2="412.30" stroke="#3a3a3a" stroke-width="0.9" />
<line x1="159.30" y1="409.50" x2="159.30" y2="412.30" stroke="#3a3a3a" stroke-width="0.9" />
<line x1="200.50" y1="409.50" x2="200.50" y2="412.30" stroke="#3a3a3a" stroke-width="0.9" />
<line x1="241.70" y1="409.50" x2="241.70" y2="412.30" stroke="#3a3a3a" stroke-width="0.9" />
<line x1="282.90" y1="409.50" x2="282.90" y2="412.30" stroke="#3a3a3a" stroke-width="0.9" />
<line x1="56.30" y1="409.20" x2="56.30" y2="414.80" stroke="#3a3a3a" stroke-width="0.9" />
<text x="56.30" y="427.20" font-size="10.0" text-anchor="middle" >0</text>
<line x1="97.50" y1="409.20" x2="97.50" y2="414.80" stroke="#3a3a3a" stroke-width="0.9" />
<text x="97.50" y="427.20" font-size="10.0" text-anchor="middle" >4</text>
<line x1="138.70" y1="409.20" x2="138.70" y2="414.80" stroke="#3a3a3a" stroke-width="0.9" />
<text x="138.70" y="427.20" font-size="10.0" text-anchor="middle" >8</text>
<line x1="179.90" y1="409.20" x2="179.90" y2="414.80" stroke="#3a3a3a" stroke-width="0.9" />
<text x="179.90" y="427.20" font-size="10.0" text-anchor="middle" >12</text>
<line x1="221.10" y1="409.20" x2="221.10" y2="414.80" stroke="#3a3a3a" stroke-width="0.9" />
<text x="221.10" y="427.20" font-size="10.0" text-anchor="middle" >16</text>
<line x1="262.30" y1="409.20" x2="262.30" y2="414.80" stroke="#3a3a3a" stroke-width="0.9" />
<text x="262.30" y="427.20" font-size="10.0" text-anchor="middle" >20</text>
<line x1="303.50" y1="409.20" x2="303.50" y2="414.80" stroke="#3a3a3a" stroke-width="0.9" />
<text x="303.50" y="427.20" font-size="10.0" text-anchor="middle" >24</text>
<line x1="56.50" y1="255.10" x2="56.50" y2="409.90" stroke="#3a3a3a" stroke-width="0.9" />
<line x1="50.50" y1="409.40" x2="56.50" y2="409.40" stroke="#3a3a3a" stroke-width="0.9" />
<text x="49.80" y="412.00" font-size="10.0" text-anchor="end" >0</text>
<line x1="50.50" y1="370.92" x2="56.50" y2="370.92" stroke="#3a3a3a" stroke-width="0.9" />
<text x="49.80" y="373.52" font-size="10.0" text-anchor="end" >50</text>
<line x1="50.50" y1="332.45" x2="56.50" y2="332.45" stroke="#3a3a3a" stroke-width="0.9" />
<text x="49.80" y="335.05" font-size="10.0" text-anchor="end" >100</text>
<line x1="50.50" y1="293.98" x2="56.50" y2="293.98" stroke="#3a3a3a" stroke-width="0.9" />
<text x="49.80" y="296.58" font-size="10.0" text-anchor="end" >150</text>
<line x1="50.50" y1="255.50" x2="56.50" y2="255.50" stroke="#3a3a3a" stroke-width="0.9" />
<text x="49.80" y="258.10" font-size="10.0" text-anchor="end" >200</text>
<line x1="53.30" y1="390.16" x2="56.50" y2="390.16" stroke="#3a3a3a" stroke-width="0.9" />
<line x1="53.30" y1="351.69" x2="56.50" y2="351.69" stroke="#3a3a3a" stroke-width="0.9" />
<line x1="53.30" y1="313.21" x2="56.50" y2="313.21" stroke="#3a3a3a" stroke-width="0.9" />
<line x1="53.30" y1="274.74" x2="56.50" y2="274.74" stroke="#3a3a3a" stroke-width="0.9" />
<text transform="translate(7.70,330.60) rotate(-90)" font-size="11.6" font-weight="bold" text-anchor="middle">Mean concentration</text>
<text transform="translate(21.80,330.60) rotate(-90)" font-size="11.6" font-weight="bold" text-anchor="middle">(µg/mL or µg-eq/mL)</text>
<text x="181.00" y="442.30" font-size="11.75" text-anchor="middle" font-weight="bold" >Nominal time (h)</text>
<path d="M199.50,255.50 L195.60,262.60 L203.40,262.60 Z" fill="none" stroke="#000" stroke-width="0.85"/>
<line x1="195.10" y1="260.00" x2="203.90" y2="260.00" stroke="#000" stroke-width="0.85" />
<text x="206.20" y="263.20" font-size="11.6" text-anchor="start" >Total radioactivity</text>
<circle cx="199.50" cy="274.30" r="3.15" fill="none" stroke="#000" stroke-width="0.85"/>
<line x1="195.20" y1="274.30" x2="203.80" y2="274.30" stroke="#000" stroke-width="0.85" />
<text x="206.20" y="277.40" font-size="11.6" text-anchor="start" >Trofinetide</text>
<polyline points="56.30,409.40 61.45,397.09 66.60,360.15 71.75,322.45 76.90,301.67 82.05,303.21 87.20,313.98 97.50,340.14 118.10,368.62 138.70,387.08 179.90,401.09" fill="none" stroke="#000" stroke-width="1.1" stroke-linejoin="round"/>
<line x1="56.30" y1="409.40" x2="56.30" y2="409.40" stroke="#000" stroke-width="0.85" />
<line x1="53.30" y1="409.40" x2="59.30" y2="409.40" stroke="#000" stroke-width="0.85" />
<line x1="53.30" y1="409.40" x2="59.30" y2="409.40" stroke="#000" stroke-width="0.85" />
<path d="M56.30,405.80 L52.75,412.70 L59.85,412.70 Z" fill="none" stroke="#000" stroke-width="0.85" stroke-linejoin="miter"/>
<line x1="61.45" y1="394.01" x2="61.45" y2="400.17" stroke="#000" stroke-width="0.85" />
<line x1="58.45" y1="394.01" x2="64.45" y2="394.01" stroke="#000" stroke-width="0.85" />
<line x1="58.45" y1="400.17" x2="64.45" y2="400.17" stroke="#000" stroke-width="0.85" />
<path d="M61.45,393.49 L57.90,400.39 L65.00,400.39 Z" fill="none" stroke="#000" stroke-width="0.85" stroke-linejoin="miter"/>
<line x1="66.60" y1="354.00" x2="66.60" y2="366.31" stroke="#000" stroke-width="0.85" />
<line x1="63.60" y1="354.00" x2="69.60" y2="354.00" stroke="#000" stroke-width="0.85" />
<line x1="63.60" y1="366.31" x2="69.60" y2="366.31" stroke="#000" stroke-width="0.85" />
<path d="M66.60,356.55 L63.05,363.45 L70.15,363.45 Z" fill="none" stroke="#000" stroke-width="0.85" stroke-linejoin="miter"/>
<line x1="71.75" y1="317.83" x2="71.75" y2="327.06" stroke="#000" stroke-width="0.85" />
<line x1="68.75" y1="317.83" x2="74.75" y2="317.83" stroke="#000" stroke-width="0.85" />
<line x1="68.75" y1="327.06" x2="74.75" y2="327.06" stroke="#000" stroke-width="0.85" />
<path d="M71.75,318.85 L68.20,325.75 L75.30,325.75 Z" fill="none" stroke="#000" stroke-width="0.85" stroke-linejoin="miter"/>
<line x1="76.90" y1="297.05" x2="76.90" y2="306.29" stroke="#000" stroke-width="0.85" />
<line x1="73.90" y1="297.05" x2="79.90" y2="297.05" stroke="#000" stroke-width="0.85" />
<line x1="73.90" y1="306.29" x2="79.90" y2="306.29" stroke="#000" stroke-width="0.85" />
<path d="M76.90,298.07 L73.35,304.97 L80.45,304.97 Z" fill="none" stroke="#000" stroke-width="0.85" stroke-linejoin="miter"/>
<line x1="82.05" y1="298.59" x2="82.05" y2="307.83" stroke="#000" stroke-width="0.85" />
<line x1="79.05" y1="298.59" x2="85.05" y2="298.59" stroke="#000" stroke-width="0.85" />
<line x1="79.05" y1="307.83" x2="85.05" y2="307.83" stroke="#000" stroke-width="0.85" />
<path d="M82.05,299.61 L78.50,306.51 L85.60,306.51 Z" fill="none" stroke="#000" stroke-width="0.85" stroke-linejoin="miter"/>
<line x1="87.20" y1="309.37" x2="87.20" y2="318.60" stroke="#000" stroke-width="0.85" />
<line x1="84.20" y1="309.37" x2="90.20" y2="309.37" stroke="#000" stroke-width="0.85" />
<line x1="84.20" y1="318.60" x2="90.20" y2="318.60" stroke="#000" stroke-width="0.85" />
<path d="M87.20,310.38 L83.65,317.28 L90.75,317.28 Z" fill="none" stroke="#000" stroke-width="0.85" stroke-linejoin="miter"/>
<line x1="97.50" y1="337.07" x2="97.50" y2="343.22" stroke="#000" stroke-width="0.85" />
<line x1="94.50" y1="337.07" x2="100.50" y2="337.07" stroke="#000" stroke-width="0.85" />
<line x1="94.50" y1="343.22" x2="100.50" y2="343.22" stroke="#000" stroke-width="0.85" />
<path d="M97.50,336.54 L93.95,343.44 L101.05,343.44 Z" fill="none" stroke="#000" stroke-width="0.85" stroke-linejoin="miter"/>
<line x1="118.10" y1="368.00" x2="118.10" y2="369.23" stroke="#000" stroke-width="0.85" />
<line x1="115.10" y1="368.00" x2="121.10" y2="368.00" stroke="#000" stroke-width="0.85" />
<line x1="115.10" y1="369.23" x2="121.10" y2="369.23" stroke="#000" stroke-width="0.85" />
<path d="M118.10,365.02 L114.55,371.92 L121.65,371.92 Z" fill="none" stroke="#000" stroke-width="0.85" stroke-linejoin="miter"/>
<line x1="138.70" y1="386.55" x2="138.70" y2="387.62" stroke="#000" stroke-width="0.85" />
<line x1="135.70" y1="386.55" x2="141.70" y2="386.55" stroke="#000" stroke-width="0.85" />
<line x1="135.70" y1="387.62" x2="141.70" y2="387.62" stroke="#000" stroke-width="0.85" />
<path d="M138.70,383.48 L135.15,390.38 L142.25,390.38 Z" fill="none" stroke="#000" stroke-width="0.85" stroke-linejoin="miter"/>
<line x1="179.90" y1="400.78" x2="179.90" y2="401.40" stroke="#000" stroke-width="0.85" />
<line x1="176.90" y1="400.78" x2="182.90" y2="400.78" stroke="#000" stroke-width="0.85" />
<line x1="176.90" y1="401.40" x2="182.90" y2="401.40" stroke="#000" stroke-width="0.85" />
<path d="M179.90,397.49 L176.35,404.39 L183.45,404.39 Z" fill="none" stroke="#000" stroke-width="0.85" stroke-linejoin="miter"/>
<polyline points="56.30,409.40 61.45,399.40 66.60,359.38 71.75,311.67 76.90,288.59 82.05,294.74 87.20,300.90 97.50,333.22 118.10,368.62 138.70,387.47 179.90,401.09 241.70,406.25 303.50,407.86" fill="none" stroke="#000" stroke-width="1.1" stroke-linejoin="round"/>
<line x1="56.30" y1="409.40" x2="56.30" y2="409.40" stroke="#000" stroke-width="0.85" />
<line x1="53.30" y1="409.40" x2="59.30" y2="409.40" stroke="#000" stroke-width="0.85" />
<line x1="53.30" y1="409.40" x2="59.30" y2="409.40" stroke="#000" stroke-width="0.85" />
<circle cx="56.30" cy="409.40" r="3.1" fill="none" stroke="#000" stroke-width="0.85"/>
<line x1="61.45" y1="396.70" x2="61.45" y2="402.09" stroke="#000" stroke-width="0.85" />
<line x1="58.45" y1="396.70" x2="64.45" y2="396.70" stroke="#000" stroke-width="0.85" />
<line x1="58.45" y1="402.09" x2="64.45" y2="402.09" stroke="#000" stroke-width="0.85" />
<circle cx="61.45" cy="399.40" r="3.1" fill="none" stroke="#000" stroke-width="0.85"/>
<line x1="66.60" y1="352.46" x2="66.60" y2="366.31" stroke="#000" stroke-width="0.85" />
<line x1="63.60" y1="352.46" x2="69.60" y2="352.46" stroke="#000" stroke-width="0.85" />
<line x1="63.60" y1="366.31" x2="69.60" y2="366.31" stroke="#000" stroke-width="0.85" />
<circle cx="66.60" cy="359.38" r="3.1" fill="none" stroke="#000" stroke-width="0.85"/>
<line x1="71.75" y1="302.44" x2="71.75" y2="320.91" stroke="#000" stroke-width="0.85" />
<line x1="68.75" y1="302.44" x2="74.75" y2="302.44" stroke="#000" stroke-width="0.85" />
<line x1="68.75" y1="320.91" x2="74.75" y2="320.91" stroke="#000" stroke-width="0.85" />
<circle cx="71.75" cy="311.67" r="3.1" fill="none" stroke="#000" stroke-width="0.85"/>
<line x1="76.90" y1="281.66" x2="76.90" y2="295.51" stroke="#000" stroke-width="0.85" />
<line x1="73.90" y1="281.66" x2="79.90" y2="281.66" stroke="#000" stroke-width="0.85" />
<line x1="73.90" y1="295.51" x2="79.90" y2="295.51" stroke="#000" stroke-width="0.85" />
<circle cx="76.90" cy="288.59" r="3.1" fill="none" stroke="#000" stroke-width="0.85"/>
<line x1="82.05" y1="290.90" x2="82.05" y2="298.59" stroke="#000" stroke-width="0.85" />
<line x1="79.05" y1="290.90" x2="85.05" y2="290.90" stroke="#000" stroke-width="0.85" />
<line x1="79.05" y1="298.59" x2="85.05" y2="298.59" stroke="#000" stroke-width="0.85" />
<circle cx="82.05" cy="294.74" r="3.1" fill="none" stroke="#000" stroke-width="0.85"/>
<line x1="87.20" y1="295.51" x2="87.20" y2="306.29" stroke="#000" stroke-width="0.85" />
<line x1="84.20" y1="295.51" x2="90.20" y2="295.51" stroke="#000" stroke-width="0.85" />
<line x1="84.20" y1="306.29" x2="90.20" y2="306.29" stroke="#000" stroke-width="0.85" />
<circle cx="87.20" cy="300.90" r="3.1" fill="none" stroke="#000" stroke-width="0.85"/>
<line x1="97.50" y1="328.60" x2="97.50" y2="337.84" stroke="#000" stroke-width="0.85" />
<line x1="94.50" y1="328.60" x2="100.50" y2="328.60" stroke="#000" stroke-width="0.85" />
<line x1="94.50" y1="337.84" x2="100.50" y2="337.84" stroke="#000" stroke-width="0.85" />
<circle cx="97.50" cy="333.22" r="3.1" fill="none" stroke="#000" stroke-width="0.85"/>
<line x1="118.10" y1="367.92" x2="118.10" y2="369.31" stroke="#000" stroke-width="0.85" />
<line x1="115.10" y1="367.92" x2="121.10" y2="367.92" stroke="#000" stroke-width="0.85" />
<line x1="115.10" y1="369.31" x2="121.10" y2="369.31" stroke="#000" stroke-width="0.85" />
<circle cx="118.10" cy="368.62" r="3.1" fill="none" stroke="#000" stroke-width="0.85"/>
<line x1="138.70" y1="386.85" x2="138.70" y2="388.08" stroke="#000" stroke-width="0.85" />
<line x1="135.70" y1="386.85" x2="141.70" y2="386.85" stroke="#000" stroke-width="0.85" />
<line x1="135.70" y1="388.08" x2="141.70" y2="388.08" stroke="#000" stroke-width="0.85" />
<circle cx="138.70" cy="387.47" r="3.1" fill="none" stroke="#000" stroke-width="0.85"/>
<line x1="179.90" y1="400.78" x2="179.90" y2="401.40" stroke="#000" stroke-width="0.85" />
<line x1="176.90" y1="400.78" x2="182.90" y2="400.78" stroke="#000" stroke-width="0.85" />
<line x1="176.90" y1="401.40" x2="182.90" y2="401.40" stroke="#000" stroke-width="0.85" />
<circle cx="179.90" cy="401.09" r="3.1" fill="none" stroke="#000" stroke-width="0.85"/>
<line x1="241.70" y1="405.94" x2="241.70" y2="406.55" stroke="#000" stroke-width="0.85" />
<line x1="238.70" y1="405.94" x2="244.70" y2="405.94" stroke="#000" stroke-width="0.85" />
<line x1="238.70" y1="406.55" x2="244.70" y2="406.55" stroke="#000" stroke-width="0.85" />
<circle cx="241.70" cy="406.25" r="3.1" fill="none" stroke="#000" stroke-width="0.85"/>
<line x1="303.50" y1="407.58" x2="303.50" y2="408.14" stroke="#000" stroke-width="0.85" />
<line x1="300.50" y1="407.58" x2="306.50" y2="407.58" stroke="#000" stroke-width="0.85" />
<line x1="300.50" y1="408.14" x2="306.50" y2="408.14" stroke="#000" stroke-width="0.85" />
<circle cx="303.50" cy="407.86" r="3.1" fill="none" stroke="#000" stroke-width="0.85"/>
<text x="366.00" y="241.60" font-size="10.5" text-anchor="start" font-weight="bold" >d</text>
<line x1="419.50" y1="409.50" x2="670.80" y2="409.50" stroke="#3a3a3a" stroke-width="0.9" />
<line x1="440.25" y1="409.50" x2="440.25" y2="412.30" stroke="#3a3a3a" stroke-width="0.9" />
<line x1="481.35" y1="409.50" x2="481.35" y2="412.30" stroke="#3a3a3a" stroke-width="0.9" />
<line x1="522.45" y1="409.50" x2="522.45" y2="412.30" stroke="#3a3a3a" stroke-width="0.9" />
<line x1="563.55" y1="409.50" x2="563.55" y2="412.30" stroke="#3a3a3a" stroke-width="0.9" />
<line x1="604.65" y1="409.50" x2="604.65" y2="412.30" stroke="#3a3a3a" stroke-width="0.9" />
<line x1="645.75" y1="409.50" x2="645.75" y2="412.30" stroke="#3a3a3a" stroke-width="0.9" />
<line x1="419.70" y1="409.20" x2="419.70" y2="414.80" stroke="#3a3a3a" stroke-width="0.9" />
<text x="419.70" y="427.20" font-size="10.0" text-anchor="middle" >0</text>
<line x1="460.80" y1="409.20" x2="460.80" y2="414.80" stroke="#3a3a3a" stroke-width="0.9" />
<text x="460.80" y="427.20" font-size="10.0" text-anchor="middle" >4</text>
<line x1="501.90" y1="409.20" x2="501.90" y2="414.80" stroke="#3a3a3a" stroke-width="0.9" />
<text x="501.90" y="427.20" font-size="10.0" text-anchor="middle" >8</text>
<line x1="543.00" y1="409.20" x2="543.00" y2="414.80" stroke="#3a3a3a" stroke-width="0.9" />
<text x="543.00" y="427.20" font-size="10.0" text-anchor="middle" >12</text>
<line x1="584.10" y1="409.20" x2="584.10" y2="414.80" stroke="#3a3a3a" stroke-width="0.9" />
<text x="584.10" y="427.20" font-size="10.0" text-anchor="middle" >16</text>
<line x1="625.20" y1="409.20" x2="625.20" y2="414.80" stroke="#3a3a3a" stroke-width="0.9" />
<text x="625.20" y="427.20" font-size="10.0" text-anchor="middle" >20</text>
<line x1="666.30" y1="409.20" x2="666.30" y2="414.80" stroke="#3a3a3a" stroke-width="0.9" />
<text x="666.30" y="427.20" font-size="10.0" text-anchor="middle" >24</text>
<line x1="419.50" y1="255.10" x2="419.50" y2="409.90" stroke="#3a3a3a" stroke-width="0.9" />
<line x1="415.10" y1="409.50" x2="419.50" y2="409.50" stroke="#3a3a3a" stroke-width="0.9" />
<text x="412.70" y="412.40" font-size="10.0" text-anchor="end" >0.1</text>
<line x1="415.10" y1="370.95" x2="419.50" y2="370.95" stroke="#3a3a3a" stroke-width="0.9" />
<text x="412.70" y="373.85" font-size="10.0" text-anchor="end" >1</text>
<line x1="415.10" y1="332.40" x2="419.50" y2="332.40" stroke="#3a3a3a" stroke-width="0.9" />
<text x="412.70" y="335.30" font-size="10.0" text-anchor="end" >10</text>
<line x1="415.10" y1="293.85" x2="419.50" y2="293.85" stroke="#3a3a3a" stroke-width="0.9" />
<text x="412.70" y="296.75" font-size="10.0" text-anchor="end" >100</text>
<line x1="415.10" y1="255.30" x2="419.50" y2="255.30" stroke="#3a3a3a" stroke-width="0.9" />
<text x="412.70" y="258.20" font-size="10.0" text-anchor="end" >1000</text>
<line x1="416.60" y1="397.90" x2="419.50" y2="397.90" stroke="#3a3a3a" stroke-width="0.9" />
<line x1="416.60" y1="391.11" x2="419.50" y2="391.11" stroke="#3a3a3a" stroke-width="0.9" />
<line x1="416.60" y1="386.29" x2="419.50" y2="386.29" stroke="#3a3a3a" stroke-width="0.9" />
<line x1="416.60" y1="382.55" x2="419.50" y2="382.55" stroke="#3a3a3a" stroke-width="0.9" />
<line x1="416.60" y1="379.50" x2="419.50" y2="379.50" stroke="#3a3a3a" stroke-width="0.9" />
<line x1="416.60" y1="376.92" x2="419.50" y2="376.92" stroke="#3a3a3a" stroke-width="0.9" />
<line x1="416.60" y1="374.69" x2="419.50" y2="374.69" stroke="#3a3a3a" stroke-width="0.9" />
<line x1="416.60" y1="372.71" x2="419.50" y2="372.71" stroke="#3a3a3a" stroke-width="0.9" />
<line x1="416.60" y1="359.35" x2="419.50" y2="359.35" stroke="#3a3a3a" stroke-width="0.9" />
<line x1="416.60" y1="352.56" x2="419.50" y2="352.56" stroke="#3a3a3a" stroke-width="0.9" />
<line x1="416.60" y1="347.74" x2="419.50" y2="347.74" stroke="#3a3a3a" stroke-width="0.9" />
<line x1="416.60" y1="344.00" x2="419.50" y2="344.00" stroke="#3a3a3a" stroke-width="0.9" />
<line x1="416.60" y1="340.95" x2="419.50" y2="340.95" stroke="#3a3a3a" stroke-width="0.9" />
<line x1="416.60" y1="338.37" x2="419.50" y2="338.37" stroke="#3a3a3a" stroke-width="0.9" />
<line x1="416.60" y1="336.14" x2="419.50" y2="336.14" stroke="#3a3a3a" stroke-width="0.9" />
<line x1="416.60" y1="334.16" x2="419.50" y2="334.16" stroke="#3a3a3a" stroke-width="0.9" />
<line x1="416.60" y1="320.80" x2="419.50" y2="320.80" stroke="#3a3a3a" stroke-width="0.9" />
<line x1="416.60" y1="314.01" x2="419.50" y2="314.01" stroke="#3a3a3a" stroke-width="0.9" />
<line x1="416.60" y1="309.19" x2="419.50" y2="309.19" stroke="#3a3a3a" stroke-width="0.9" />
<line x1="416.60" y1="305.45" x2="419.50" y2="305.45" stroke="#3a3a3a" stroke-width="0.9" />
<line x1="416.60" y1="302.40" x2="419.50" y2="302.40" stroke="#3a3a3a" stroke-width="0.9" />
<line x1="416.60" y1="299.82" x2="419.50" y2="299.82" stroke="#3a3a3a" stroke-width="0.9" />
<line x1="416.60" y1="297.59" x2="419.50" y2="297.59" stroke="#3a3a3a" stroke-width="0.9" />
<line x1="416.60" y1="295.61" x2="419.50" y2="295.61" stroke="#3a3a3a" stroke-width="0.9" />
<line x1="416.60" y1="282.25" x2="419.50" y2="282.25" stroke="#3a3a3a" stroke-width="0.9" />
<line x1="416.60" y1="275.46" x2="419.50" y2="275.46" stroke="#3a3a3a" stroke-width="0.9" />
<line x1="416.60" y1="270.64" x2="419.50" y2="270.64" stroke="#3a3a3a" stroke-width="0.9" />
<line x1="416.60" y1="266.90" x2="419.50" y2="266.90" stroke="#3a3a3a" stroke-width="0.9" />
<line x1="416.60" y1="263.85" x2="419.50" y2="263.85" stroke="#3a3a3a" stroke-width="0.9" />
<line x1="416.60" y1="261.27" x2="419.50" y2="261.27" stroke="#3a3a3a" stroke-width="0.9" />
<line x1="416.60" y1="259.04" x2="419.50" y2="259.04" stroke="#3a3a3a" stroke-width="0.9" />
<line x1="416.60" y1="257.06" x2="419.50" y2="257.06" stroke="#3a3a3a" stroke-width="0.9" />
<text transform="translate(371.80,332.40) rotate(-90)" font-size="11.6" font-weight="bold" text-anchor="middle">Mean concentration</text>
<text transform="translate(385.70,332.40) rotate(-90)" font-size="11.6" font-weight="bold" text-anchor="middle">(µg/mL or µg-eq/mL)</text>
<text x="544.30" y="442.30" font-size="11.75" text-anchor="middle" font-weight="bold" >Nominal time (h)</text>
<path d="M576.00,255.50 L572.10,262.60 L579.90,262.60 Z" fill="none" stroke="#000" stroke-width="0.85"/>
<line x1="571.60" y1="260.00" x2="580.40" y2="260.00" stroke="#000" stroke-width="0.85" />
<text x="582.70" y="263.20" font-size="11.6" text-anchor="start" >Total radioactivity</text>
<circle cx="576.00" cy="274.30" r="3.15" fill="none" stroke="#000" stroke-width="0.85"/>
<line x1="571.70" y1="274.30" x2="580.30" y2="274.30" stroke="#000" stroke-width="0.85" />
<text x="582.70" y="277.40" font-size="11.6" text-anchor="start" >Trofinetide</text>
<polyline points="425.24,323.93 430.37,298.75 435.51,291.20 440.65,287.62 445.79,287.86 450.92,289.65 461.20,293.67 481.75,304.13 502.30,314.52" fill="none" stroke="#000" stroke-width="1.0" stroke-linejoin="round"/>
<line x1="425.24" y1="320.20" x2="425.24" y2="327.67" stroke="#000" stroke-width="0.85" />
<line x1="422.24" y1="320.20" x2="428.24" y2="320.20" stroke="#000" stroke-width="0.85" />
<line x1="422.24" y1="327.67" x2="428.24" y2="327.67" stroke="#000" stroke-width="0.85" />
<path d="M425.24,320.33 L421.69,327.23 L428.79,327.23 Z" fill="none" stroke="#000" stroke-width="0.85" stroke-linejoin="miter"/>
<line x1="430.37" y1="296.99" x2="430.37" y2="300.51" stroke="#000" stroke-width="0.85" />
<line x1="427.37" y1="296.99" x2="433.37" y2="296.99" stroke="#000" stroke-width="0.85" />
<line x1="427.37" y1="300.51" x2="433.37" y2="300.51" stroke="#000" stroke-width="0.85" />
<path d="M430.37,295.15 L426.82,302.05 L433.92,302.05 Z" fill="none" stroke="#000" stroke-width="0.85" stroke-linejoin="miter"/>
<line x1="435.51" y1="290.34" x2="435.51" y2="292.07" stroke="#000" stroke-width="0.85" />
<line x1="432.51" y1="290.34" x2="438.51" y2="290.34" stroke="#000" stroke-width="0.85" />
<line x1="432.51" y1="292.07" x2="438.51" y2="292.07" stroke="#000" stroke-width="0.85" />
<path d="M435.51,287.60 L431.96,294.50 L439.06,294.50 Z" fill="none" stroke="#000" stroke-width="0.85" stroke-linejoin="miter"/>
<line x1="440.65" y1="286.91" x2="440.65" y2="288.32" stroke="#000" stroke-width="0.85" />
<line x1="437.65" y1="286.91" x2="443.65" y2="286.91" stroke="#000" stroke-width="0.85" />
<line x1="437.65" y1="288.32" x2="443.65" y2="288.32" stroke="#000" stroke-width="0.85" />
<path d="M440.65,284.02 L437.10,290.92 L444.20,290.92 Z" fill="none" stroke="#000" stroke-width="0.85" stroke-linejoin="miter"/>
<line x1="445.79" y1="287.15" x2="445.79" y2="288.57" stroke="#000" stroke-width="0.85" />
<line x1="442.79" y1="287.15" x2="448.79" y2="287.15" stroke="#000" stroke-width="0.85" />
<line x1="442.79" y1="288.57" x2="448.79" y2="288.57" stroke="#000" stroke-width="0.85" />
<path d="M445.79,284.26 L442.24,291.16 L449.34,291.16 Z" fill="none" stroke="#000" stroke-width="0.85" stroke-linejoin="miter"/>
<line x1="450.92" y1="288.86" x2="450.92" y2="290.44" stroke="#000" stroke-width="0.85" />
<line x1="447.92" y1="288.86" x2="453.92" y2="288.86" stroke="#000" stroke-width="0.85" />
<line x1="447.92" y1="290.44" x2="453.92" y2="290.44" stroke="#000" stroke-width="0.85" />
<path d="M450.92,286.05 L447.37,292.95 L454.47,292.95 Z" fill="none" stroke="#000" stroke-width="0.85" stroke-linejoin="miter"/>
<line x1="461.20" y1="293.00" x2="461.20" y2="294.34" stroke="#000" stroke-width="0.85" />
<line x1="458.20" y1="293.00" x2="464.20" y2="293.00" stroke="#000" stroke-width="0.85" />
<line x1="458.20" y1="294.34" x2="464.20" y2="294.34" stroke="#000" stroke-width="0.85" />
<path d="M461.20,290.07 L457.65,296.97 L464.75,296.97 Z" fill="none" stroke="#000" stroke-width="0.85" stroke-linejoin="miter"/>
<line x1="481.75" y1="302.75" x2="481.75" y2="305.52" stroke="#000" stroke-width="0.85" />
<line x1="478.75" y1="302.75" x2="484.75" y2="302.75" stroke="#000" stroke-width="0.85" />
<line x1="478.75" y1="305.52" x2="484.75" y2="305.52" stroke="#000" stroke-width="0.85" />
<path d="M481.75,300.53 L478.20,307.43 L485.30,307.43 Z" fill="none" stroke="#000" stroke-width="0.85" stroke-linejoin="miter"/>
<line x1="502.30" y1="312.82" x2="502.30" y2="316.22" stroke="#000" stroke-width="0.85" />
<line x1="499.30" y1="312.82" x2="505.30" y2="312.82" stroke="#000" stroke-width="0.85" />
<line x1="499.30" y1="316.22" x2="505.30" y2="316.22" stroke="#000" stroke-width="0.85" />
<path d="M502.30,310.92 L498.75,317.82 L505.85,317.82 Z" fill="none" stroke="#000" stroke-width="0.85" stroke-linejoin="miter"/>
<polyline points="425.24,327.41 430.37,298.98 435.51,289.25 440.65,285.70 445.79,286.57 450.92,287.50 461.20,293.42 481.75,303.88 502.30,314.27 543.40,330.51 605.05,346.73 666.70,358.75" fill="none" stroke="#000" stroke-width="1.0" stroke-linejoin="round"/>
<line x1="425.24" y1="323.42" x2="425.24" y2="331.40" stroke="#000" stroke-width="0.85" />
<line x1="422.24" y1="323.42" x2="428.24" y2="323.42" stroke="#000" stroke-width="0.85" />
<line x1="422.24" y1="331.40" x2="428.24" y2="331.40" stroke="#000" stroke-width="0.85" />
<circle cx="425.24" cy="327.41" r="3.1" fill="none" stroke="#000" stroke-width="0.85"/>
<line x1="430.37" y1="296.99" x2="430.37" y2="300.98" stroke="#000" stroke-width="0.85" />
<line x1="427.37" y1="296.99" x2="433.37" y2="296.99" stroke="#000" stroke-width="0.85" />
<line x1="427.37" y1="300.98" x2="433.37" y2="300.98" stroke="#000" stroke-width="0.85" />
<circle cx="430.37" cy="298.98" r="3.1" fill="none" stroke="#000" stroke-width="0.85"/>
<line x1="435.51" y1="287.74" x2="435.51" y2="290.76" stroke="#000" stroke-width="0.85" />
<line x1="432.51" y1="287.74" x2="438.51" y2="287.74" stroke="#000" stroke-width="0.85" />
<line x1="432.51" y1="290.76" x2="438.51" y2="290.76" stroke="#000" stroke-width="0.85" />
<circle cx="435.51" cy="289.25" r="3.1" fill="none" stroke="#000" stroke-width="0.85"/>
<line x1="440.65" y1="284.76" x2="440.65" y2="286.63" stroke="#000" stroke-width="0.85" />
<line x1="437.65" y1="284.76" x2="443.65" y2="284.76" stroke="#000" stroke-width="0.85" />
<line x1="437.65" y1="286.63" x2="443.65" y2="286.63" stroke="#000" stroke-width="0.85" />
<circle cx="440.65" cy="285.70" r="3.1" fill="none" stroke="#000" stroke-width="0.85"/>
<line x1="445.79" y1="286.02" x2="445.79" y2="287.13" stroke="#000" stroke-width="0.85" />
<line x1="442.79" y1="286.02" x2="448.79" y2="286.02" stroke="#000" stroke-width="0.85" />
<line x1="442.79" y1="287.13" x2="448.79" y2="287.13" stroke="#000" stroke-width="0.85" />
<circle cx="445.79" cy="286.57" r="3.1" fill="none" stroke="#000" stroke-width="0.85"/>
<line x1="450.92" y1="286.69" x2="450.92" y2="288.31" stroke="#000" stroke-width="0.85" />
<line x1="447.92" y1="286.69" x2="453.92" y2="286.69" stroke="#000" stroke-width="0.85" />
<line x1="447.92" y1="288.31" x2="453.92" y2="288.31" stroke="#000" stroke-width="0.85" />
<circle cx="450.92" cy="287.50" r="3.1" fill="none" stroke="#000" stroke-width="0.85"/>
<line x1="461.20" y1="292.43" x2="461.20" y2="294.40" stroke="#000" stroke-width="0.85" />
<line x1="458.20" y1="292.43" x2="464.20" y2="292.43" stroke="#000" stroke-width="0.85" />
<line x1="458.20" y1="294.40" x2="464.20" y2="294.40" stroke="#000" stroke-width="0.85" />
<circle cx="461.20" cy="293.42" r="3.1" fill="none" stroke="#000" stroke-width="0.85"/>
<line x1="481.75" y1="302.51" x2="481.75" y2="305.24" stroke="#000" stroke-width="0.85" />
<line x1="478.75" y1="302.51" x2="484.75" y2="302.51" stroke="#000" stroke-width="0.85" />
<line x1="478.75" y1="305.24" x2="484.75" y2="305.24" stroke="#000" stroke-width="0.85" />
<circle cx="481.75" cy="303.88" r="3.1" fill="none" stroke="#000" stroke-width="0.85"/>
<line x1="502.30" y1="312.59" x2="502.30" y2="315.94" stroke="#000" stroke-width="0.85" />
<line x1="499.30" y1="312.59" x2="505.30" y2="312.59" stroke="#000" stroke-width="0.85" />
<line x1="499.30" y1="315.94" x2="505.30" y2="315.94" stroke="#000" stroke-width="0.85" />
<circle cx="502.30" cy="314.27" r="3.1" fill="none" stroke="#000" stroke-width="0.85"/>
<line x1="543.40" y1="329.17" x2="543.40" y2="331.85" stroke="#000" stroke-width="0.85" />
<line x1="540.40" y1="329.17" x2="546.40" y2="329.17" stroke="#000" stroke-width="0.85" />
<line x1="540.40" y1="331.85" x2="546.40" y2="331.85" stroke="#000" stroke-width="0.85" />
<circle cx="543.40" cy="330.51" r="3.1" fill="none" stroke="#000" stroke-width="0.85"/>
<line x1="605.05" y1="345.17" x2="605.05" y2="348.29" stroke="#000" stroke-width="0.85" />
<line x1="602.05" y1="345.17" x2="608.05" y2="345.17" stroke="#000" stroke-width="0.85" />
<line x1="602.05" y1="348.29" x2="608.05" y2="348.29" stroke="#000" stroke-width="0.85" />
<circle cx="605.05" cy="346.73" r="3.1" fill="none" stroke="#000" stroke-width="0.85"/>
<line x1="666.70" y1="355.97" x2="666.70" y2="361.52" stroke="#000" stroke-width="0.85" />
<line x1="663.70" y1="355.97" x2="669.70" y2="355.97" stroke="#000" stroke-width="0.85" />
<line x1="663.70" y1="361.52" x2="669.70" y2="361.52" stroke="#000" stroke-width="0.85" />
<circle cx="666.70" cy="358.75" r="3.1" fill="none" stroke="#000" stroke-width="0.85"/>
</svg>
</body></html>
